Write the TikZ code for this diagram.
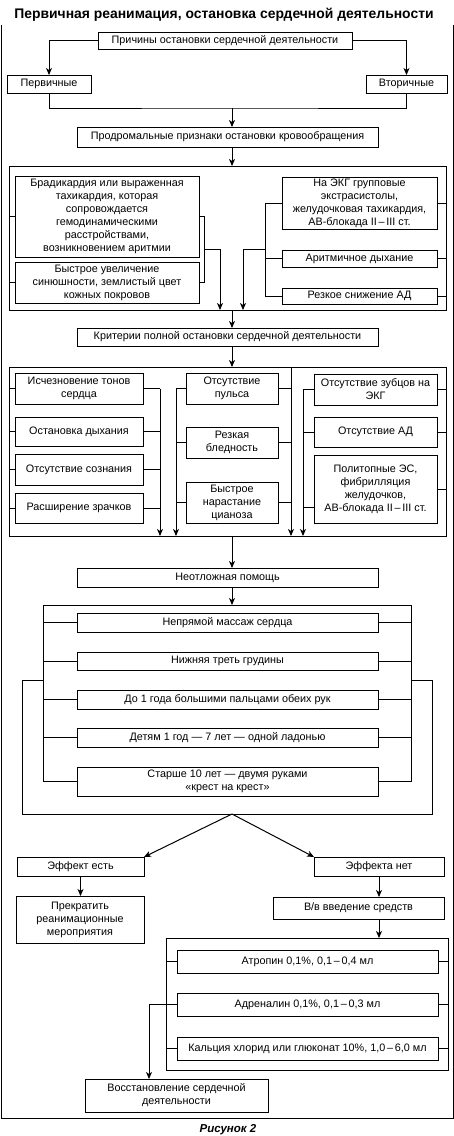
\documentclass[tikz,border=0pt]{standalone}
\usepackage{fontspec}
\setmainfont{Liberation Sans}
\usetikzlibrary{arrows.meta,calc}
\newcommand\mybox[6]{\node[box,minimum width={(#4-#2)*1pt},minimum height={(#5-#3)*1pt}] (#1) at ({(#2+#4)/2},{(#3+#5)/2}) {#6};}
\newcommand\myframe[5]{\node[frm,minimum width={(#4-#2)*1pt},minimum height={(#5-#3)*1pt}] (#1) at ({(#2+#4)/2},{(#3+#5)/2}) {};}
\begin{document}
\begin{tikzpicture}[x=1pt,y=-1pt,
  box/.style={draw,fill=white,line width=1pt,inner sep=1pt,outer sep=0pt,align=center,font=\fontsize{10.8}{12.9}\selectfont},
  frm/.style={draw,fill=white,line width=1pt,inner sep=0pt,outer sep=0pt},
  ln/.style={line width=1pt},
  arr/.style={line width=1pt,-{Stealth[length=7pt,width=6pt,inset=2pt]}}]
\useasboundingbox (0,0) rectangle (454,1136);
\node[font=\bfseries\fontsize{13.9}{15}\selectfont] (title) at (224,15) {Первичная реанимация, остановка сердечной деятельности};
\draw[ln] (1,25) -- (1,1118) -- (453,1118) -- (453,25);
\coordinate (mid) at (232,0);
% top
\mybox{cause}{98}{32}{352}{49}{Причины остановки сердечной деятельности}
\mybox{prim}{7}{75}{91}{93}{Первичные}
\mybox{sec}{366}{75}{447}{93}{Вторичные}
\draw[arr] (cause.west) -| (prim.north);
\draw[arr] (cause.east) -| (sec.north);
\coordinate (j1) at (232,108);
\draw[ln] (prim.south) |- (j1) -| (sec.south);
\mybox{prod}{77}{127}{378}{147}{Продромальные признаки остановки кровообращения}
\draw[arr] (j1) -- (prod.north -| j1);
% frame 1
\myframe{fr1}{9}{166}{446}{310}
\draw[arr] (prod.south -| mid) -- (fr1.north -| mid);
\mybox{b1}{15}{176}{199}{257}{Брадикардия или выраженная\\тахикардия, которая\\сопровождается\\гемодинамическими\\расстройствами,\\возникновением аритмии}
\mybox{b2}{15}{262}{199}{303}{Быстрое увеличение\\синюшности, землистый цвет\\кожных покровов}
\draw[ln] (fr1.west |- b1.west) -- (b1.west);
\draw[ln] (fr1.west |- b2.west) -- (b2.west);
\coordinate (cB) at (204,249);
\coordinate (aB) at (220,249);
\draw[ln] (b1.east) -- (b1.east -| cB) -- (b2.east -| cB) -- (b2.east);
\draw[arr] (cB) -- (aB) -- (fr1.south -| aB);
\mybox{r1}{282}{177}{437}{229}{На ЭКГ групповые\\экстрасистолы,\\желудочковая тахикардия,\\АВ-блокада II\,–\,III ст.}
\mybox{r2}{282}{250}{437}{267}{Аритмичное дыхание}
\mybox{r3}{282}{288}{437}{304}{Резкое снижение АД}
\foreach \n in {r1,r2,r3} {\draw[ln] (\n.east) -- (fr1.east |- \n.east);}
\coordinate (cR1) at (265,249);
\coordinate (aR1) at (243,249);
\draw[ln] (r1.west) -- (r1.west -| cR1) -- (r3.west -| cR1) -- (r3.west);
\draw[ln] (r2.west) -- (r2.west -| cR1);
\draw[arr] (cR1) -- (aR1) -- (fr1.south -| aR1);
% criteria
\mybox{crit}{77}{328}{378}{346}{Критерии полной остановки сердечной деятельности}
\draw[arr] (fr1.south -| mid) -- (crit.north -| mid);
\myframe{fr2}{9}{367}{446}{536}
\draw[arr] (crit.south -| mid) -- (fr2.north -| mid);
\mybox{L1}{15}{373}{143}{404}{Исчезновение тонов\\сердца}
\mybox{L2}{15}{417}{143}{446}{Остановка дыхания}
\mybox{L3}{15}{454}{143}{485}{Отсутствие сознания}
\mybox{L4}{15}{493}{143}{523}{Расширение зрачков}
\mybox{M1}{186}{373}{278}{404}{Отсутствие\\пульса}
\mybox{M2}{186}{427}{278}{458}{Резкая\\бледность}
\mybox{M3}{186}{482}{278}{523}{Быстрое\\нарастание\\цианоза}
\mybox{R1}{314}{374}{437}{405}{Отсутствие зубцов на\\ЭКГ}
\mybox{R2}{314}{417}{437}{447}{Отсутствие АД}
\mybox{R3}{314}{455}{437}{523}{Политопные ЭС,\\фибрилляция\\желудочков,\\АВ-блокада II\,–\,III ст.}
\coordinate (cL) at (160,0);
\coordinate (cM1) at (176,0);
\coordinate (cM2) at (291,0);
\coordinate (cR) at (303,0);
\foreach \n in {L1,L2,L3,L4} {\draw[ln] (fr2.west |- \n.west) -- (\n.west); \draw[ln] (\n.east) -- (\n.east -| cL);}
\draw[arr] (L1.east -| cL) -- (fr2.south -| cL);
\foreach \n in {M1,M2,M3} {\draw[ln] (\n.west) -- (\n.west -| cM1); \draw[ln] (\n.east) -- (\n.east -| cM2);}
\draw[arr] (M1.west -| cM1) -- (fr2.south -| cM1);
\draw[arr] (fr2.north -| cM2) -- (fr2.south -| cM2);
\foreach \n in {R1,R2,R3} {\draw[ln] (\n.east) -- (fr2.east |- \n.east);}
\draw[ln] (R1.west) -- (R1.west -| cR);
\draw[ln] (R2.west) -- (R2.west -| cR);
\coordinate (r3s) at (303,507);
\draw[ln] (r3s) -- (r3s -| R3.west);
\draw[arr] (R1.west -| cR) -- (fr2.south -| cR);
% emergency
\mybox{help}{77}{568}{378}{587}{Неотложная помощь}
\draw[arr] (fr2.south -| mid) -- (help.north -| mid);
\myframe{obr}{22}{680}{432}{814}
\myframe{ibr}{43}{605}{411}{781}
\draw[arr] (help.south -| mid) -- (ibr.north -| mid);
\mybox{H1}{77}{613}{378}{632}{Непрямой массаж сердца}
\mybox{H2}{77}{652}{378}{670}{Нижняя треть грудины}
\mybox{H3}{77}{690}{378}{709}{До 1 года большими пальцами обеих рук}
\mybox{H4}{77}{728}{378}{747}{Детям 1 год — 7 лет — одной ладонью}
\mybox{H5}{77}{767}{378}{796}{Старше 10 лет — двумя руками\\«крест на крест»}
\foreach \n in {H1,H2,H3,H4} {\draw[ln] (ibr.west |- \n.west) -- (\n.west); \draw[ln] (\n.east) -- (ibr.east |- \n.east);}
% effect
\mybox{yes}{17}{857}{144}{876}{Эффект есть}
\mybox{no}{314}{857}{444}{876}{Эффекта нет}
\coordinate (j2) at (232,814);
\draw[arr] (j2) -- (yes.north east);
\draw[arr] (j2) -- (no.north west);
\mybox{stop}{16}{896}{144}{943}{Прекратить\\реанимационные\\мероприятия}
\draw[arr] (yes.south) -- (stop.north -| yes.south);
\mybox{iv}{273}{897}{444}{919}{В/в введение средств}
\draw[arr] (no.south) -- (iv.north -| no.south);
\myframe{fr3}{166}{938}{448}{1070}
\draw[arr] (iv.south -| no.south) -- (fr3.north -| no.south);
\mybox{D1}{177}{950}{438}{973}{Атропин 0,1\%, 0,1\,–\,0,4 мл}
\mybox{D2}{177}{993}{438}{1016}{Адреналин 0,1\%, 0,1\,–\,0,3 мл}
\mybox{D3}{177}{1037}{438}{1060}{Кальция хлорид или глюконат 10\%, 1,0\,–\,6,0 мл}
\foreach \n in {D1,D2,D3} {\draw[ln] (fr3.west |- \n.west) -- (\n.west); \draw[ln] (\n.east) -- (fr3.east |- \n.east);}
\mybox{restore}{85}{1079}{268}{1112}{Восстановление сердечной\\деятельности}
\coordinate (cD) at (149,0);
\draw[arr] (D2.west) -- (D2.west -| cD) -- (restore.north -| cD);
\node[font=\bfseries\itshape\fontsize{11.5}{13}\selectfont] (cap) at (228,1130) {Рисунок 2};
\end{tikzpicture}
\end{document}
